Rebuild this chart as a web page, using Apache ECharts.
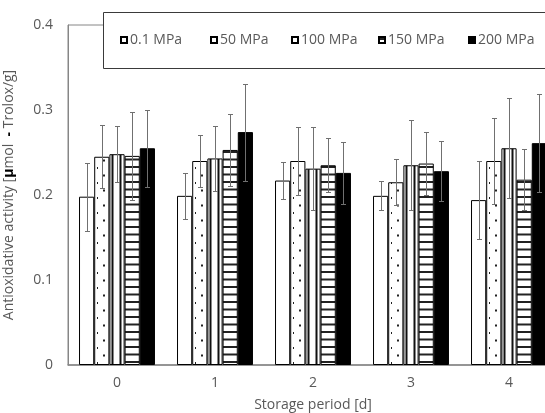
<!DOCTYPE html>
<html>
<head>
<meta charset="utf-8">
<script src="https://cdn.jsdelivr.net/npm/echarts@6/dist/echarts.min.js"></script>
<style>
html,body{margin:0;padding:0;background:#fff;}
#chart{width:545px;height:413px;}
</style>
</head>
<body>
<div id="chart"></div>
<script>
// ---- data ----
const categories = ['0', '1', '2', '3', '4'];
const seriesNames = ['0.1 MPa', '50 MPa', '100 MPa', '150 MPa', '200 MPa'];
const mpa01  = [0.198, 0.199, 0.217, 0.199, 0.194];
const mpa50  = [0.245, 0.240, 0.240, 0.215, 0.240];
const mpa100 = [0.248, 0.243, 0.231, 0.235, 0.255];
const mpa150 = [0.246, 0.253, 0.235, 0.237, 0.218];
const mpa200 = [0.255, 0.274, 0.226, 0.228, 0.261];
const err01  = [0.040, 0.027, 0.022, 0.017, 0.046];
const err50  = [0.037, 0.030, 0.040, 0.027, 0.051];
const err100 = [0.033, 0.038, 0.049, 0.053, 0.059];
const err150 = [0.052, 0.042, 0.032, 0.037, 0.036];
const err200 = [0.045, 0.057, 0.036, 0.035, 0.058];
const yTicks = [0, 0.1, 0.2, 0.3, 0.4];

const values = [mpa01, mpa50, mpa100, mpa150, mpa200];
const errors = [err01, err50, err100, err150, err200];

// ---- patterns ----
function makeCanvas(w, h, draw) {
  const c = document.createElement('canvas');
  c.width = w; c.height = h;
  const g = c.getContext('2d');
  g.fillStyle = '#ffffff';
  g.fillRect(0, 0, w, h);
  draw(g);
  return c;
}
const dotsCanvas = makeCanvas(98, 15, g => {
  g.fillStyle = '#222';
  g.fillRect(97, 2, 2, 2);
  g.fillRect(5, 9.5, 2, 2);
});
const vlinesCanvas = makeCanvas(98, 4, g => {
  g.fillStyle = '#111';
  g.fillRect(13.5, 0, 2, 4);
  g.fillRect(21.5, 0, 2, 4);
});
const hlinesCanvas = makeCanvas(4, 15, g => {
  g.fillStyle = '#222';
  g.fillRect(0, 1, 4, 2);
  g.fillRect(0, 8.5, 4, 2);
});
const fills = [
  '#ffffff',
  { image: dotsCanvas, repeat: 'repeat' },
  { image: vlinesCanvas, repeat: 'repeat' },
  { image: hlinesCanvas, repeat: 'repeat' },
  '#000000'
];

const FONT = '"Open Sans"';
const TXT = '#595959';
const BAR_FRAC = 0.155;

const barSeries = seriesNames.map((name, i) => ({
  name: name,
  type: 'bar',
  data: values[i],
  barWidth: (BAR_FRAC * 100) + '%',
  barGap: '0%',
  itemStyle: { color: fills[i], borderColor: '#000', borderWidth: 1 },
  emphasis: { disabled: true },
  z: 2
}));

const errData = [];
values.forEach((arr, si) => arr.forEach((v, ci) => errData.push([ci, si, v, errors[si][ci]])));

const errSeries = {
  type: 'custom',
  data: errData,
  z: 5,
  silent: true,
  encode: { x: 0, y: 2 },
  renderItem: function (params, api) {
    const ci = api.value(0), si = api.value(1), v = api.value(2), e = api.value(3);
    const bw = api.size([1, 0])[0] * BAR_FRAC;
    const c = api.coord([ci, v]);
    const x = Math.round(c[0] + (si - 2) * bw) + 0.5;
    const yHi = Math.round(api.coord([ci, v + e])[1]) + 0.5;
    const yLo = Math.round(api.coord([ci, v - e])[1]) + 0.5;
    const cap = 2.5;
    const st = { stroke: '#707070', lineWidth: 1 };
    return {
      type: 'group',
      children: [
        { type: 'line', shape: { x1: x, y1: yHi, x2: x, y2: yLo }, style: st },
        { type: 'line', shape: { x1: x - cap, y1: yHi, x2: x + cap, y2: yHi }, style: st },
        { type: 'line', shape: { x1: x - cap, y1: yLo, x2: x + cap, y2: yLo }, style: st }
      ]
    };
  }
};

const legendLefts = [120, 210, 291, 378, 468];
const legends = seriesNames.map((n, i) => ({
  data: [n],
  left: legendLefts[i],
  top: 33,
  itemWidth: 6,
  itemHeight: 6,
  itemGap: 3,
  padding: 0,
  selectedMode: false,
  icon: 'rect',
  textStyle: { fontFamily: FONT, fontSize: 14, color: TXT, padding: [0, 0, 0, -2] }
}));

const chart = echarts.init(document.getElementById('chart'), null, { renderer: 'canvas' });
chart.setOption({
  animation: false,
  backgroundColor: '#ffffff',
  grid: {
    left: 68, top: 25, width: 490, height: 340,
    outerBoundsMode: 'none',
    containLabel: false,
    show: true, borderColor: '#868686', borderWidth: 1, backgroundColor: 'transparent'
  },
  legend: legends,
  graphic: [{
    type: 'rect',
    z: 3,
    shape: { x: 103.5, y: 12.5, width: 460, height: 56 },
    style: { fill: '#ffffff', stroke: '#3a3a3a', lineWidth: 1 }
  }],
  xAxis: {
    type: 'category',
    data: categories,
    axisLine: { lineStyle: { color: '#868686', width: 1.5 } },
    axisTick: { show: false },
    axisLabel: { fontFamily: FONT, fontSize: 14, color: TXT, margin: 11 },
    name: 'Storage period [d]',
    nameLocation: 'middle',
    nameGap: 33,
    nameTextStyle: { fontFamily: FONT, fontSize: 14, color: TXT }
  },
  yAxis: {
    type: 'value',
    min: yTicks[0],
    max: yTicks[yTicks.length - 1],
    interval: 0.1,
    axisLine: { show: true, lineStyle: { color: '#868686', width: 1 } },
    axisTick: { show: false },
    splitLine: { show: false },
    axisLabel: { fontFamily: FONT, fontSize: 14, color: TXT, margin: 15 },
    name: 'Antioxidative activity [{b|µ}mol  {b|-} Trolox/g]',
    nameLocation: 'middle',
    nameGap: 52,
    nameTextStyle: {
      fontFamily: FONT, fontSize: 14, color: TXT,
      rich: { b: { fontFamily: FONT, fontSize: 14, fontWeight: 'bold', color: '#000' } }
    }
  },
  series: barSeries.concat([errSeries])
});
</script>
</body>
</html>
